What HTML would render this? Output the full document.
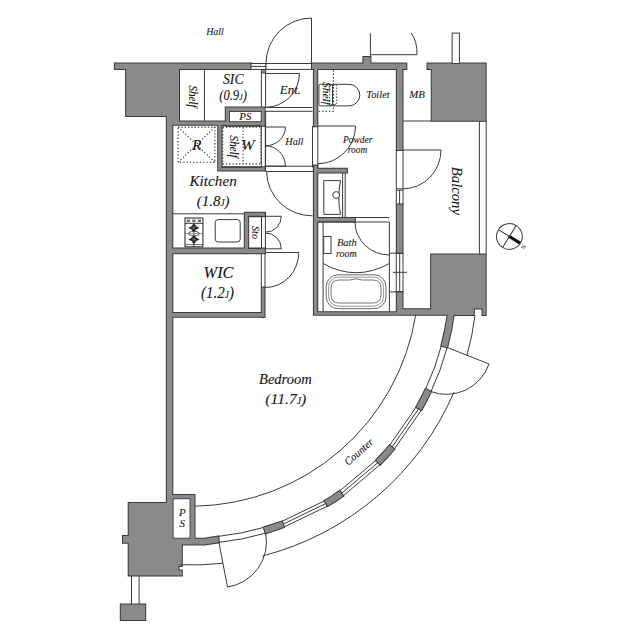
<!DOCTYPE html>
<html><head><meta charset="utf-8"><style>html,body{margin:0;padding:0;background:#fff;}svg{display:block;}text{font-family:"Liberation Serif",serif;}</style></head>
<body><svg width="640" height="639" viewBox="0 0 640 639">
<rect width="640" height="639" fill="#fff"/>
<g></g>
<path d="M453.88,313.79 A265,265 0 0 1 447.17,347.39 L441.37,345.83 A259,259 0 0 0 447.93,313.00 Z M430.98,391.63 L426.36,400.96 L421.39,410.10 L416.18,407.12 L421.04,398.19 L425.55,389.08 Z M394.20,449.14 L387.36,456.98 L380.21,464.54 L375.93,460.34 L382.92,452.94 L389.61,445.28 Z M343.20,495.88 L335.53,501.05 L327.69,505.95 L324.59,500.81 L332.26,496.02 L339.76,490.96 Z M284.00,527.02 L274.85,530.25 L265.58,533.15 L263.89,527.39 L272.95,524.56 L281.90,521.40 Z M194.50,538.80 L204.50,538.80 L218.27,536.38 L218.90,542.35 L204.50,544.40 L194.50,544.40 Z M114.90,63.60 L251.25,63.60 L251.25,68.90 L114.90,68.90 Z M126.10,68.90 L179.00,68.90 L179.00,115.90 L126.10,115.90 Z M166.80,115.90 L179.00,115.90 L179.00,124.80 L166.80,124.80 Z M166.80,115.90 L172.30,115.90 L172.30,503.00 L166.80,503.00 Z M172.30,121.60 L225.80,121.60 L225.80,124.80 L172.30,124.80 Z M225.80,107.60 L264.60,107.60 L264.60,125.80 L225.80,125.80 Z M218.20,124.80 L221.50,124.80 L221.50,170.50 L218.20,170.50 Z M218.20,167.30 L264.80,167.30 L264.80,170.50 L218.20,170.50 Z M172.30,248.50 L265.00,248.50 L265.00,253.25 L172.30,253.25 Z M244.80,212.80 L248.20,212.80 L248.20,253.25 L244.80,253.25 Z M244.80,212.80 L264.90,212.80 L264.90,216.20 L244.80,216.20 Z M261.80,287.60 L264.50,287.60 L264.50,317.00 L261.80,317.00 Z M172.30,313.10 L264.50,313.10 L264.50,316.80 L172.30,316.80 Z M311.50,63.60 L406.30,63.60 L406.30,68.90 L402.50,68.90 L402.50,150.00 L396.80,150.00 L396.80,68.90 L317.30,68.90 L317.30,126.25 L313.90,126.25 L313.90,68.90 L311.50,68.90 Z M313.90,165.50 L317.30,165.50 L317.30,314.60 L313.90,314.60 Z M313.90,168.80 L346.90,168.80 L346.90,172.60 L313.90,172.60 Z M313.90,218.00 L355.00,218.00 L355.00,221.40 L313.90,221.40 Z M396.80,204.40 L402.50,204.40 L402.50,253.10 L396.80,253.10 Z M396.80,291.90 L402.50,291.90 L402.50,309.30 L396.80,309.30 Z M313.90,312.30 L396.80,312.30 L396.80,309.30 L431.10,309.30 L431.10,254.60 L485.70,254.60 L485.70,315.10 L482.50,315.10 L482.50,308.60 L473.80,308.60 L473.80,315.10 L455.00,315.10 L455.00,314.80 L313.90,314.80 Z M427.50,63.60 L485.70,63.60 L485.70,120.75 L431.75,120.75 L431.75,68.90 L427.50,68.90 Z M128.70,503.00 L166.80,503.00 L166.80,494.90 L194.50,494.90 L194.50,538.80 L204.50,538.80 L204.50,544.40 L181.80,544.40 L181.80,566.10 L178.50,566.10 L178.50,570.60 L181.80,570.60 L181.80,575.40 L128.70,575.40 L128.70,542.70 L123.00,542.70 L123.00,536.10 L128.70,536.10 Z M120.80,604.50 L145.20,604.50 L145.20,619.90 L120.80,619.90 Z M363.40,57.10 L370.40,57.10 L370.40,63.50 L363.40,63.50 Z" fill="#3a3a3a" stroke="#3a3a3a" stroke-width="2" stroke-linejoin="miter"/>
<path d="M453.88,313.79 A265,265 0 0 1 447.17,347.39 L441.37,345.83 A259,259 0 0 0 447.93,313.00 Z M430.98,391.63 L426.36,400.96 L421.39,410.10 L416.18,407.12 L421.04,398.19 L425.55,389.08 Z M394.20,449.14 L387.36,456.98 L380.21,464.54 L375.93,460.34 L382.92,452.94 L389.61,445.28 Z M343.20,495.88 L335.53,501.05 L327.69,505.95 L324.59,500.81 L332.26,496.02 L339.76,490.96 Z M284.00,527.02 L274.85,530.25 L265.58,533.15 L263.89,527.39 L272.95,524.56 L281.90,521.40 Z M194.50,538.80 L204.50,538.80 L218.27,536.38 L218.90,542.35 L204.50,544.40 L194.50,544.40 Z M114.90,63.60 L251.25,63.60 L251.25,68.90 L114.90,68.90 Z M126.10,68.90 L179.00,68.90 L179.00,115.90 L126.10,115.90 Z M166.80,115.90 L179.00,115.90 L179.00,124.80 L166.80,124.80 Z M166.80,115.90 L172.30,115.90 L172.30,503.00 L166.80,503.00 Z M172.30,121.60 L225.80,121.60 L225.80,124.80 L172.30,124.80 Z M225.80,107.60 L264.60,107.60 L264.60,125.80 L225.80,125.80 Z M218.20,124.80 L221.50,124.80 L221.50,170.50 L218.20,170.50 Z M218.20,167.30 L264.80,167.30 L264.80,170.50 L218.20,170.50 Z M172.30,248.50 L265.00,248.50 L265.00,253.25 L172.30,253.25 Z M244.80,212.80 L248.20,212.80 L248.20,253.25 L244.80,253.25 Z M244.80,212.80 L264.90,212.80 L264.90,216.20 L244.80,216.20 Z M261.80,287.60 L264.50,287.60 L264.50,317.00 L261.80,317.00 Z M172.30,313.10 L264.50,313.10 L264.50,316.80 L172.30,316.80 Z M311.50,63.60 L406.30,63.60 L406.30,68.90 L402.50,68.90 L402.50,150.00 L396.80,150.00 L396.80,68.90 L317.30,68.90 L317.30,126.25 L313.90,126.25 L313.90,68.90 L311.50,68.90 Z M313.90,165.50 L317.30,165.50 L317.30,314.60 L313.90,314.60 Z M313.90,168.80 L346.90,168.80 L346.90,172.60 L313.90,172.60 Z M313.90,218.00 L355.00,218.00 L355.00,221.40 L313.90,221.40 Z M396.80,204.40 L402.50,204.40 L402.50,253.10 L396.80,253.10 Z M396.80,291.90 L402.50,291.90 L402.50,309.30 L396.80,309.30 Z M313.90,312.30 L396.80,312.30 L396.80,309.30 L431.10,309.30 L431.10,254.60 L485.70,254.60 L485.70,315.10 L482.50,315.10 L482.50,308.60 L473.80,308.60 L473.80,315.10 L455.00,315.10 L455.00,314.80 L313.90,314.80 Z M427.50,63.60 L485.70,63.60 L485.70,120.75 L431.75,120.75 L431.75,68.90 L427.50,68.90 Z M128.70,503.00 L166.80,503.00 L166.80,494.90 L194.50,494.90 L194.50,538.80 L204.50,538.80 L204.50,544.40 L181.80,544.40 L181.80,566.10 L178.50,566.10 L178.50,570.60 L181.80,570.60 L181.80,575.40 L128.70,575.40 L128.70,542.70 L123.00,542.70 L123.00,536.10 L128.70,536.10 Z M120.80,604.50 L145.20,604.50 L145.20,619.90 L120.80,619.90 Z M363.40,57.10 L370.40,57.10 L370.40,63.50 L363.40,63.50 Z" fill="#8a8a8a" stroke="none"/>
<rect x="229.50" y="111.50" width="31.70" height="10.20" fill="#fff" stroke="#3a3a3a" stroke-width="0.9"/><rect x="173.10" y="498.80" width="16.90" height="39.40" fill="#fff" stroke="#3a3a3a" stroke-width="0.9"/>
<path d="M475.04,315.50 A286.2,286.2 0 0 1 467.00,355.26" fill="none" stroke="#3a3a3a" stroke-width="1"/>
<path d="M454.06,392.01 A286.2,286.2 0 0 1 262.38,556.01" fill="none" stroke="#3a3a3a" stroke-width="1"/>
<path d="M222.92,563.24 A286.2,286.2 0 0 1 179.71,564.77" fill="none" stroke="#3a3a3a" stroke-width="1"/>
<path d="M415.70,315.00 A227.4,227.4 0 0 1 195.17,506.17" fill="none" stroke="#3a3a3a" stroke-width="1"/>
<line x1="416.18" y1="407.12" x2="389.61" y2="445.28" fill="none" stroke="#3a3a3a" stroke-width="1"/>
<line x1="418.78" y1="408.61" x2="391.90" y2="447.21" fill="none" stroke="#3a3a3a" stroke-width="1"/>
<line x1="421.39" y1="410.10" x2="394.20" y2="449.14" fill="none" stroke="#3a3a3a" stroke-width="1"/>
<line x1="375.93" y1="460.34" x2="339.76" y2="490.96" fill="none" stroke="#3a3a3a" stroke-width="1"/>
<line x1="378.07" y1="462.44" x2="341.48" y2="493.42" fill="none" stroke="#3a3a3a" stroke-width="1"/>
<line x1="380.21" y1="464.54" x2="343.20" y2="495.88" fill="none" stroke="#3a3a3a" stroke-width="1"/>
<line x1="324.59" y1="500.81" x2="281.90" y2="521.40" fill="none" stroke="#3a3a3a" stroke-width="1"/>
<line x1="326.14" y1="503.38" x2="282.95" y2="524.21" fill="none" stroke="#3a3a3a" stroke-width="1"/>
<line x1="327.69" y1="505.95" x2="284.00" y2="527.02" fill="none" stroke="#3a3a3a" stroke-width="1"/>
<path d="M441.37,345.83 A259,259 0 0 1 425.55,389.08" fill="none" stroke="#3a3a3a" stroke-width="1"/>
<path d="M447.17,347.39 A265,265 0 0 1 430.98,391.63" fill="none" stroke="#3a3a3a" stroke-width="1"/>
<path d="M263.89,527.39 A259,259 0 0 1 218.27,536.38" fill="none" stroke="#3a3a3a" stroke-width="1"/>
<path d="M265.58,533.15 A265,265 0 0 1 218.90,542.35" fill="none" stroke="#3a3a3a" stroke-width="1"/>
<line x1="447.17" y1="347.39" x2="489.00" y2="364.00" fill="none" stroke="#3a3a3a" stroke-width="1"/>
<path d="M489.00,364.00 A45.01,45.01 0 0 1 430.98,391.63" fill="none" stroke="#3a3a3a" stroke-width="1"/>
<line x1="218.90" y1="542.35" x2="227.50" y2="587.00" fill="none" stroke="#3a3a3a" stroke-width="1"/>
<path d="M227.50,587.00 A45.47,45.47 0 0 0 265.58,533.15" fill="none" stroke="#3a3a3a" stroke-width="1"/>
<line x1="261.30" y1="125.80" x2="261.30" y2="167.30" fill="none" stroke="#3a3a3a" stroke-width="1"/>
<line x1="265.30" y1="125.80" x2="265.30" y2="170.50" fill="none" stroke="#3a3a3a" stroke-width="1"/>
<line x1="221.50" y1="125.80" x2="261.30" y2="125.80" fill="none" stroke="#3a3a3a" stroke-width="1"/>
<line x1="221.50" y1="167.30" x2="261.30" y2="167.30" fill="none" stroke="#3a3a3a" stroke-width="1"/>
<line x1="261.50" y1="216.20" x2="261.50" y2="248.50" fill="none" stroke="#3a3a3a" stroke-width="1"/>
<line x1="265.40" y1="212.80" x2="265.40" y2="253.25" fill="none" stroke="#3a3a3a" stroke-width="1"/>
<line x1="248.20" y1="216.20" x2="261.50" y2="216.20" fill="none" stroke="#3a3a3a" stroke-width="1"/>
<line x1="248.20" y1="248.50" x2="261.50" y2="248.50" fill="none" stroke="#3a3a3a" stroke-width="1"/>
<line x1="261.30" y1="253.25" x2="261.30" y2="287.60" fill="none" stroke="#3a3a3a" stroke-width="1"/>
<line x1="265.00" y1="253.25" x2="265.00" y2="287.60" fill="none" stroke="#3a3a3a" stroke-width="1"/>
<rect x="251.00" y="63.50" width="15.00" height="5.90" fill="#fff" stroke="#3a3a3a" stroke-width="1" />
<line x1="251.00" y1="66.40" x2="266.00" y2="66.40" fill="none" stroke="#3a3a3a" stroke-width="1"/>
<rect x="266.00" y="63.50" width="45.50" height="5.90" fill="#fff" stroke="#3a3a3a" stroke-width="1" />
<line x1="311.50" y1="18.00" x2="311.50" y2="63.50" fill="none" stroke="#3a3a3a" stroke-width="1"/>
<path d="M311.5,18 A45.5,45.5 0 0 0 266,63.5" fill="none" stroke="#3a3a3a" stroke-width="1"/>
<line x1="370.40" y1="33.10" x2="370.40" y2="57.10" fill="none" stroke="#3a3a3a" stroke-width="1"/>
<line x1="370.40" y1="54.70" x2="416.90" y2="54.70" fill="none" stroke="#3a3a3a" stroke-width="1"/>
<path d="M411.3,33.1 Q417.5,42 416.9,54.7" fill="none" stroke="#3a3a3a" stroke-width="1"/>
<rect x="452.10" y="33.10" width="7.30" height="30.40" fill="#fff" stroke="#3a3a3a" stroke-width="1" />
<line x1="204.40" y1="69.40" x2="204.40" y2="120.80" fill="none" stroke="#3a3a3a" stroke-width="1"/>
<line x1="261.40" y1="69.40" x2="261.40" y2="107.00" fill="none" stroke="#3a3a3a" stroke-width="1"/>
<line x1="265.60" y1="69.40" x2="265.60" y2="107.00" fill="none" stroke="#3a3a3a" stroke-width="1"/>
<rect x="261.40" y="69.40" width="4.20" height="3.60" fill="#8a8a8a" stroke="#3a3a3a" stroke-width="0.8" />
<line x1="265.60" y1="73.50" x2="299.40" y2="73.50" fill="none" stroke="#3a3a3a" stroke-width="1"/>
<path d="M299.4,73.5 A33.8,33.8 0 0 1 265.6,107.3" fill="none" stroke="#3a3a3a" stroke-width="1"/>
<line x1="265.60" y1="107.50" x2="312.50" y2="107.50" fill="none" stroke="#3a3a3a" stroke-width="1"/>
<line x1="265.60" y1="111.30" x2="312.50" y2="111.30" fill="none" stroke="#3a3a3a" stroke-width="1"/>
<line x1="265.60" y1="111.30" x2="265.60" y2="167.50" fill="none" stroke="#3a3a3a" stroke-width="1"/>
<line x1="265.40" y1="166.20" x2="313.90" y2="166.20" fill="none" stroke="#3a3a3a" stroke-width="1"/>
<line x1="265.40" y1="171.50" x2="313.90" y2="171.50" fill="none" stroke="#3a3a3a" stroke-width="1"/>
<line x1="265.50" y1="127.00" x2="285.40" y2="127.00" fill="none" stroke="#3a3a3a" stroke-width="1"/>
<path d="M285.4,127 A19.9,18.8 0 0 1 265.5,145.8" fill="none" stroke="#3a3a3a" stroke-width="1"/>
<line x1="265.50" y1="166.20" x2="285.40" y2="166.20" fill="none" stroke="#3a3a3a" stroke-width="1"/>
<path d="M285.4,166.2 A19.9,20.4 0 0 0 265.5,145.8" fill="none" stroke="#3a3a3a" stroke-width="1"/>
<path d="M266.6,171.5 A45.5,44.5 0 0 0 312.5,215.8" fill="none" stroke="#3a3a3a" stroke-width="1"/>
<line x1="312.50" y1="126.00" x2="312.50" y2="167.50" fill="none" stroke="#3a3a3a" stroke-width="1"/>
<line x1="317.80" y1="126.00" x2="317.80" y2="167.50" fill="none" stroke="#3a3a3a" stroke-width="1"/>
<line x1="317.80" y1="126.00" x2="355.50" y2="126.00" fill="none" stroke="#3a3a3a" stroke-width="1"/>
<path d="M355.5,126 A37.7,37.7 0 0 1 317.8,163.7" fill="none" stroke="#3a3a3a" stroke-width="1"/>
<path d="M332.5,84.3 L349,84.3 A10.8,10.8 0 0 1 349,105.9 L332.5,105.9 Z" fill="#fff" stroke="#3a3a3a" stroke-width="1"/>
<rect x="318.90" y="84.30" width="13.60" height="21.60" fill="#fff" stroke="#3a3a3a" stroke-width="1" rx="1.5"/>
<rect x="329.70" y="85.50" width="7.00" height="19.00" fill="none" stroke="#333" stroke-width="0.9" stroke-dasharray="1.4,1.6" />
<path d="M333.4,70 L333.4,111.2 L317.8,111.2" fill="none" stroke="#333" stroke-width="1.1" stroke-dasharray="1.6,1.8"/>
<line x1="342.60" y1="173.10" x2="342.60" y2="217.50" fill="none" stroke="#3a3a3a" stroke-width="1"/>
<line x1="345.20" y1="173.10" x2="345.20" y2="217.50" fill="none" stroke="#3a3a3a" stroke-width="1"/>
<path d="M323.8,180.6 L340.5,180.6 Q337,197.5 340.5,214.4 L323.8,214.4 Z" fill="none" stroke="#3a3a3a" stroke-width="1"/>
<circle cx="336.2" cy="195" r="3.4" fill="#fff" stroke="#3a3a3a" stroke-width="1"/>
<line x1="317.80" y1="222.00" x2="389.40" y2="222.00" fill="none" stroke="#3a3a3a" stroke-width="1"/>
<line x1="355.00" y1="217.50" x2="389.40" y2="217.50" fill="none" stroke="#3a3a3a" stroke-width="1"/>
<line x1="323.10" y1="222.00" x2="323.10" y2="311.30" fill="none" stroke="#3a3a3a" stroke-width="1"/>
<line x1="389.40" y1="222.00" x2="389.40" y2="311.30" fill="none" stroke="#3a3a3a" stroke-width="1"/>
<rect x="323.70" y="236.50" width="7.30" height="17.00" fill="#fff" stroke="#3a3a3a" stroke-width="1" />
<path d="M355,222 A34.4,33 0 0 0 389.4,255" fill="none" stroke="#3a3a3a" stroke-width="1"/>
<path d="M323.1,263.5 Q356,282 389.4,263.5" fill="none" stroke="#3a3a3a" stroke-width="1"/>
<rect x="326.20" y="274.80" width="59.80" height="33.90" fill="#fff" stroke="#666" stroke-width="1" rx="12" ry="12"/>
<rect x="328.60" y="277.20" width="55.00" height="29.00" fill="none" stroke="#777" stroke-width="0.8" rx="10" ry="10"/>
<path d="M331,288 Q331,280 339,280 L350,280 Q356,277.5 362,280 L373,280 Q381,280 381,288 L381,295 Q381,303 373,303 L339,303 Q331,303 331,295 Z" fill="none" stroke="#666" stroke-width="0.9"/>
<line x1="396.30" y1="150.00" x2="396.30" y2="204.40" fill="none" stroke="#3a3a3a" stroke-width="1"/>
<line x1="403.00" y1="150.00" x2="403.00" y2="204.40" fill="none" stroke="#3a3a3a" stroke-width="1"/>
<line x1="396.30" y1="188.80" x2="403.00" y2="188.80" fill="none" stroke="#3a3a3a" stroke-width="1"/>
<line x1="396.30" y1="190.20" x2="403.00" y2="190.20" fill="none" stroke="#3a3a3a" stroke-width="1"/>
<line x1="399.60" y1="190.20" x2="399.60" y2="204.40" fill="none" stroke="#3a3a3a" stroke-width="1"/>
<line x1="403.00" y1="150.00" x2="441.00" y2="150.00" fill="none" stroke="#3a3a3a" stroke-width="1"/>
<path d="M441,150 A38,38.8 0 0 1 403,188.8" fill="none" stroke="#3a3a3a" stroke-width="1"/>
<line x1="396.30" y1="253.10" x2="396.30" y2="291.90" fill="none" stroke="#3a3a3a" stroke-width="1"/>
<line x1="403.00" y1="253.10" x2="403.00" y2="291.90" fill="none" stroke="#3a3a3a" stroke-width="1"/>
<line x1="399.70" y1="253.10" x2="399.70" y2="291.90" fill="none" stroke="#3a3a3a" stroke-width="1"/>
<line x1="389.40" y1="253.10" x2="403.00" y2="253.10" fill="none" stroke="#3a3a3a" stroke-width="1"/>
<line x1="389.40" y1="291.90" x2="403.00" y2="291.90" fill="none" stroke="#3a3a3a" stroke-width="1"/>
<line x1="393.00" y1="272.30" x2="406.90" y2="272.30" fill="none" stroke="#3a3a3a" stroke-width="1"/>
<line x1="403.00" y1="121.00" x2="431.20" y2="121.00" fill="none" stroke="#3a3a3a" stroke-width="1"/>
<line x1="479.40" y1="121.20" x2="479.40" y2="253.80" fill="none" stroke="#3a3a3a" stroke-width="1"/>
<line x1="486.20" y1="121.20" x2="486.20" y2="253.80" fill="none" stroke="#3a3a3a" stroke-width="1"/>
<g transform="translate(509.4,236.5) rotate(32)"><circle r="12.9" fill="#fff" stroke="#3a3a3a" stroke-width="1"/><line x1="-12.9" y1="0" x2="12.9" y2="0" fill="none" stroke="#3a3a3a" stroke-width="1"/><line x1="0" y1="-12.9" x2="0" y2="12.9" fill="none" stroke="#3a3a3a" stroke-width="1"/><line x1="-0.5" y1="0" x2="12.6" y2="0" stroke="#111" stroke-width="3.2"/></g>
<text x="523.5" y="247" font-size="6" font-family="Liberation Serif" transform="rotate(-58 523.5 247)" text-anchor="middle" dominant-baseline="central" fill="#333">N</text>
<rect x="178.10" y="127.10" width="36.80" height="35.20" fill="none" stroke="#333" stroke-width="1.1" stroke-dasharray="1.3,2" />
<path d="M178.1,127.1 L214.9,162.3 M214.9,127.1 L178.1,162.3" fill="none" stroke="#333" stroke-width="1.1" stroke-dasharray="1.3,2"/>
<rect x="222.70" y="127.10" width="38.30" height="36.80" fill="none" stroke="#333" stroke-width="1.1" stroke-dasharray="1.3,2" />
<line x1="243.10" y1="127.10" x2="243.10" y2="163.90" fill="none" stroke="#333" stroke-width="1.1" stroke-dasharray="1.3,2"/>
<line x1="172.80" y1="213.80" x2="243.80" y2="213.80" fill="none" stroke="#3a3a3a" stroke-width="1"/>
<rect x="185.00" y="218.00" width="17.90" height="28.80" fill="#fff" stroke="#333" stroke-width="1.1" />
<line x1="185.00" y1="223.30" x2="202.90" y2="223.30" stroke="#333" stroke-width="1"/>
<rect x="186.70" y="219.6" width="3.2" height="2.4" fill="#666"/>
<rect x="192.30" y="219.6" width="3.2" height="2.4" fill="#666"/>
<rect x="197.90" y="219.6" width="3.2" height="2.4" fill="#666"/>
<path d="M193.9,222.8 L196.3,226.2 L199.6,227.8 L196.3,229.4 L193.9,232.8 L191.5,229.4 L188.2,227.8 L191.5,226.2 Z" fill="#2a2a2a"/>
<circle cx="193.9" cy="227.8" r="1.3" fill="#888"/>
<path d="M193.9,234.4 L196.3,237.8 L199.6,239.4 L196.3,241.0 L193.9,244.4 L191.5,241.0 L188.2,239.4 L191.5,237.8 Z" fill="#2a2a2a"/>
<circle cx="193.9" cy="239.4" r="1.3" fill="#888"/>
<ellipse cx="193.9" cy="233.6" rx="5.5" ry="2.2" fill="#fff" stroke="#444" stroke-width="0.9"/>
<line x1="193.90" y1="223.30" x2="193.90" y2="246.80" stroke="#333" stroke-width="0.8"/>
<line x1="185.00" y1="233.60" x2="202.90" y2="233.60" stroke="#555" stroke-width="0.6"/>
<line x1="185.00" y1="244.60" x2="202.90" y2="244.60" stroke="#444" stroke-width="0.8"/>
<rect x="215.20" y="219.60" width="25.00" height="22.40" fill="#fff" stroke="#3a3a3a" stroke-width="1" rx="3"/>
<line x1="265.40" y1="216.30" x2="281.30" y2="216.30" fill="none" stroke="#3a3a3a" stroke-width="1"/>
<path d="M281.3,216.3 A15.9,15.9 0 0 1 265.4,232.2" fill="none" stroke="#3a3a3a" stroke-width="1"/>
<line x1="265.40" y1="248.80" x2="281.30" y2="248.80" fill="none" stroke="#3a3a3a" stroke-width="1"/>
<path d="M281.3,248.8 A15.9,15.9 0 0 0 265.4,232.9" fill="none" stroke="#3a3a3a" stroke-width="1"/>
<line x1="265.40" y1="252.50" x2="298.80" y2="252.50" fill="none" stroke="#3a3a3a" stroke-width="1"/>
<path d="M298.8,252.5 A33.4,35 0 0 1 265.4,287.5" fill="none" stroke="#3a3a3a" stroke-width="1"/>
<line x1="131.50" y1="575.90" x2="131.50" y2="604.00" fill="none" stroke="#3a3a3a" stroke-width="1"/>
<line x1="139.10" y1="575.90" x2="139.10" y2="604.00" fill="none" stroke="#3a3a3a" stroke-width="1"/>
<g font-family="Liberation Serif, serif" font-style="italic" fill="#151515" stroke="#151515" stroke-width="0.1">
<text x="215.00" y="34.70" font-size="10.6" text-anchor="middle" textLength="17.65" lengthAdjust="spacingAndGlyphs">Hall</text>
<text x="233.30" y="83.50" font-size="14" text-anchor="middle" textLength="20.56" lengthAdjust="spacingAndGlyphs">SIC</text>
<text x="233.05" y="99.70" font-size="14" text-anchor="middle" textLength="27.64" lengthAdjust="spacingAndGlyphs">(0.9<tspan font-size="8.7">J</tspan>)</text>
<text x="193.40" y="96.60" font-size="11.5" text-anchor="middle" transform="rotate(90 193.40 96.60)" textLength="22.23" lengthAdjust="spacingAndGlyphs" dominant-baseline="central">Shelf</text>
<text x="290.38" y="93.75" font-size="12.5" text-anchor="middle" textLength="21.10" lengthAdjust="spacingAndGlyphs">Ent.</text>
<text x="378.00" y="97.50" font-size="10.6" text-anchor="middle" textLength="23.28" lengthAdjust="spacingAndGlyphs">Toilet</text>
<text x="417.00" y="97.90" font-size="10.6" text-anchor="middle" textLength="15.52" lengthAdjust="spacingAndGlyphs">MB</text>
<text x="245.45" y="120.10" font-size="10.5" text-anchor="middle" textLength="12.12" lengthAdjust="spacingAndGlyphs">PS</text>
<text x="196.90" y="149.80" font-size="14" text-anchor="middle" textLength="9.12" lengthAdjust="spacingAndGlyphs">R</text>
<text x="233.70" y="146.70" font-size="11.5" text-anchor="middle" transform="rotate(90 233.70 146.70)" textLength="22.23" lengthAdjust="spacingAndGlyphs" dominant-baseline="central">Shelf</text>
<text x="247.75" y="149.80" font-size="14" text-anchor="middle" textLength="13.68" lengthAdjust="spacingAndGlyphs">W</text>
<text x="294.38" y="145.00" font-size="10.6" text-anchor="middle" textLength="18.19" lengthAdjust="spacingAndGlyphs">Hall</text>
<text x="357.75" y="142.50" font-size="10.6" text-anchor="middle" textLength="29.59" lengthAdjust="spacingAndGlyphs">Powder</text>
<text x="357.50" y="152.50" font-size="10.6" text-anchor="middle" textLength="19.40" lengthAdjust="spacingAndGlyphs">room</text>
<text x="457.50" y="190.90" font-size="15.5" text-anchor="middle" transform="rotate(90 457.50 190.90)" textLength="48.21" lengthAdjust="spacingAndGlyphs" dominant-baseline="central">Balcony</text>
<text x="213.12" y="186.25" font-size="15.5" text-anchor="middle" textLength="47.29" lengthAdjust="spacingAndGlyphs">Kitchen</text>
<text x="213.12" y="206.25" font-size="15.5" text-anchor="middle" textLength="32.74" lengthAdjust="spacingAndGlyphs">(1.8<tspan font-size="9.6">J</tspan>)</text>
<text x="255.60" y="232.50" font-size="10.5" text-anchor="middle" transform="rotate(90 255.60 232.50)" textLength="13.11" lengthAdjust="spacingAndGlyphs" dominant-baseline="central">Sto</text>
<text x="218.55" y="278.00" font-size="16.5" text-anchor="middle" textLength="29.97" lengthAdjust="spacingAndGlyphs">WIC</text>
<text x="217.50" y="297.80" font-size="16.5" text-anchor="middle" textLength="32.98" lengthAdjust="spacingAndGlyphs">(1.2<tspan font-size="10.2">J</tspan>)</text>
<text x="346.80" y="246.30" font-size="10.6" text-anchor="middle" textLength="19.79" lengthAdjust="spacingAndGlyphs">Bath</text>
<text x="346.40" y="257.30" font-size="10.6" text-anchor="middle" textLength="20.56" lengthAdjust="spacingAndGlyphs">room</text>
<text x="285.40" y="384.40" font-size="15.5" text-anchor="middle" textLength="52.77" lengthAdjust="spacingAndGlyphs">Bedroom</text>
<text x="285.85" y="403.50" font-size="15.5" text-anchor="middle" textLength="41.03" lengthAdjust="spacingAndGlyphs">(11.7<tspan font-size="9.6">J</tspan>)</text>
<text x="358.50" y="451.50" font-size="10.8" text-anchor="middle" transform="rotate(-42 358.50 451.50)" textLength="34.67" lengthAdjust="spacingAndGlyphs" dominant-baseline="central">Counter</text>
<text x="182.30" y="516.30" font-size="11" text-anchor="middle">P</text>
<text x="182.30" y="527.30" font-size="11" text-anchor="middle">S</text>
<text x="326.50" y="93.50" font-size="11" text-anchor="middle" transform="rotate(90 326.50 93.50)" textLength="23.00" lengthAdjust="spacingAndGlyphs" dominant-baseline="central">Shelf</text>
</g>
</svg></body></html>
